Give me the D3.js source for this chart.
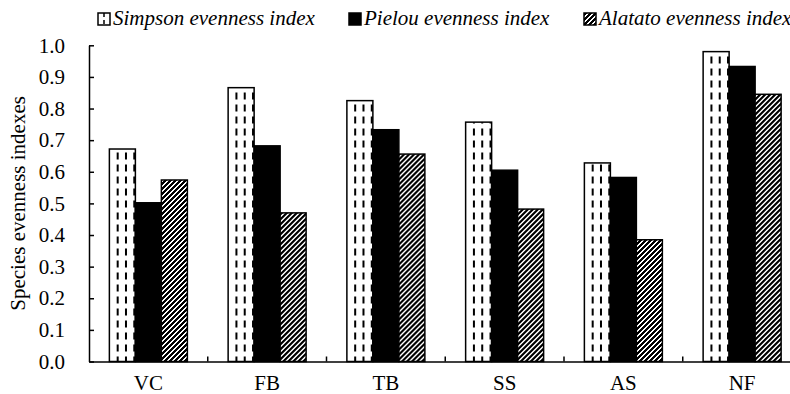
<!DOCTYPE html>
<html>
<head>
<meta charset="utf-8">
<script src="https://cdn.jsdelivr.net/npm/d3@7"></script>
<style>
  html, body { margin: 0; padding: 0; background: #fff; }
  svg { display: block; }
</style>
</head>
<body>
<svg id="chart" width="790" height="394"></svg>
<script>
// Sites along the x axis
const categories = ["VC", "FB", "TB", "SS", "AS", "NF"];
// Index names (legend order)
const seriesNames = ["Simpson evenness index", "Pielou evenness index", "Alatato evenness index"];
// Index values per site
const simpson = [0.672, 0.866, 0.825, 0.757, 0.628, 0.980];
const pielou  = [0.502, 0.682, 0.733, 0.605, 0.582, 0.933];
const alatato = [0.574, 0.470, 0.656, 0.482, 0.385, 0.845];
// Y axis tick values
const yTicks = [0.0, 0.1, 0.2, 0.3, 0.4, 0.5, 0.6, 0.7, 0.8, 0.9, 1.0];

const seriesValues = [simpson, pielou, alatato];
const seriesKeys = ["simpson", "pielou", "alatato"];

const svg = d3.select("#chart");
const font = "'Liberation Serif', 'Times New Roman', serif";
const fs = 21;

const plot = { left: 89, right: 801.5, top: 45.3, bottom: 361.5 };

const x0 = d3.scaleBand().domain(categories).range([plot.left, plot.right]).padding(0);
const x1 = d3.scaleBand().domain(seriesKeys).range([0, x0.bandwidth()])
  .paddingInner(0).paddingOuter(0.784);
const y = d3.scaleLinear().domain([0, 1]).range([plot.bottom, plot.top]);

// ---- fill patterns ----
const defs = svg.append("defs");
// upward diagonal stripes: 5x5 pixel tile, 3 px black / 2 px white
const tile = 5;
const hatch = defs.append("pattern").attr("id", "hatch")
  .attr("patternUnits", "userSpaceOnUse").attr("width", tile).attr("height", tile);
hatch.append("rect").attr("width", tile).attr("height", tile).attr("fill", "#fff");
const cells = [];
for (let i = 0; i < tile; i++) for (let j = 0; j < tile; j++) if ((i + j) % tile < 3) cells.push([i, j]);
hatch.selectAll("rect.px").data(cells).enter().append("rect").attr("class", "px")
  .attr("x", d => d[0]).attr("y", d => d[1]).attr("width", 1).attr("height", 1)
  .attr("fill", "#000").attr("shape-rendering", "crispEdges");

// ---- bars ----
const groups = svg.append("g").selectAll("g.site")
  .data(categories.map((c, i) => ({ cat: c, vals: seriesKeys.map((k, s) => ({ key: k, v: seriesValues[s][i] })) })))
  .enter().append("g").attr("class", "site")
  .attr("transform", d => `translate(${x0(d.cat)},0)`);

const bw = x1.bandwidth();

groups.each(function (d) {
  const g = d3.select(this);
  d.vals.forEach(b => {
    const bx = x1(b.key), by = y(b.v), bh = y(0) - y(b.v);
    if (b.key === "simpson") {
      g.append("rect").attr("x", bx).attr("y", by).attr("width", bw).attr("height", bh)
        .attr("fill", "#fff");
      [8.3, 16.6, 24.9].forEach(off => {
        g.append("line").attr("x1", bx + off).attr("x2", bx + off)
          .attr("y1", y(0)).attr("y2", by)
          .attr("stroke", "#000").attr("stroke-width", 2)
          .attr("stroke-dasharray", "7,5").attr("stroke-dashoffset", 2);
      });
      g.append("rect").attr("x", bx).attr("y", by).attr("width", bw).attr("height", bh)
        .attr("fill", "none").attr("stroke", "#000").attr("stroke-width", 1.5);
    } else if (b.key === "pielou") {
      g.append("rect").attr("x", bx).attr("y", by).attr("width", bw).attr("height", bh)
        .attr("fill", "#000").attr("stroke", "#000").attr("stroke-width", 1.5);
    } else {
      g.append("rect").attr("x", bx).attr("y", by).attr("width", bw).attr("height", bh)
        .attr("fill", "url(#hatch)").attr("stroke", "#000").attr("stroke-width", 1.5);
    }
  });
});

// ---- axes ----
const yAxis = svg.append("g").attr("transform", `translate(${plot.left},0)`)
  .call(d3.axisLeft(y).tickValues(yTicks).tickFormat(d3.format(".1f")).tickSizeInner(-5).tickSizeOuter(0).tickPadding(24));
yAxis.select(".domain").attr("stroke", "#000").attr("stroke-width", 1.5);
yAxis.selectAll(".tick line").attr("stroke", "#000").attr("stroke-width", 1.5);
yAxis.selectAll(".tick text").attr("font-family", font).attr("font-size", fs).attr("fill", "#000");

const xAxis = svg.append("g").attr("transform", `translate(0,${plot.bottom})`)
  .call(d3.axisBottom(x0).tickSize(0).tickPadding(14));
xAxis.select(".domain").attr("stroke", "#000").attr("stroke-width", 1.5);
xAxis.selectAll(".tick text").attr("font-family", font).attr("font-size", fs).attr("fill", "#000");
// boundary ticks between sites
svg.append("g").selectAll("line.sep").data(categories.slice(1)).enter().append("line")
  .attr("x1", d => x0(d)).attr("x2", d => x0(d))
  .attr("y1", plot.bottom).attr("y2", plot.bottom - 5)
  .attr("stroke", "#000").attr("stroke-width", 1.5);

// y axis title
svg.append("text")
  .attr("transform", `translate(25,${(plot.top + plot.bottom) / 2}) rotate(-90)`)
  .attr("text-anchor", "middle").attr("font-family", font).attr("font-size", fs)
  .text("Species evenness indexes");

// ---- legend ----
const legendX = [98, 349, 584];
const leg = svg.append("g").selectAll("g.leg").data(seriesKeys).enter().append("g")
  .attr("transform", (d, i) => `translate(${legendX[i]},13)`);
leg.each(function (k, i) {
  const g = d3.select(this);
  if (k === "simpson") {
    g.append("rect").attr("width", 12).attr("height", 12).attr("fill", "#fff");
    g.append("line").attr("x1", 6).attr("x2", 6).attr("y1", 0).attr("y2", 12)
      .attr("stroke", "#000").attr("stroke-width", 1.5).attr("stroke-dasharray", "4,3");
    g.append("rect").attr("width", 12).attr("height", 12).attr("fill", "none")
      .attr("stroke", "#000").attr("stroke-width", 1.5);
  } else if (k === "pielou") {
    g.append("rect").attr("width", 12).attr("height", 12).attr("fill", "#000")
      .attr("stroke", "#000").attr("stroke-width", 1.5);
  } else {
    g.append("rect").attr("width", 12).attr("height", 12).attr("fill", "url(#hatch)")
      .attr("stroke", "#000").attr("stroke-width", 1.5);
  }
  g.append("text").attr("x", 15).attr("y", 12).attr("font-family", font)
    .attr("font-style", "italic").attr("font-size", fs).text(seriesNames[i]);
});
</script>
</body>
</html>
